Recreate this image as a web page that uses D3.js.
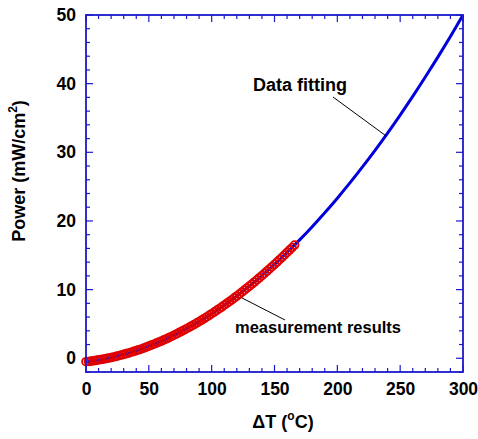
<!DOCTYPE html>
<html><head><meta charset="utf-8">
<script src="https://cdn.jsdelivr.net/npm/d3@7"></script>
<style>body{margin:0;background:#fff}svg{display:block}text{font-family:"Liberation Sans",Arial,sans-serif;font-weight:bold;fill:#000}</style>
</head><body><div id="chart"></div>
<script>
// Measurement results (ΔT in °C, Power in mW/cm²)
const measT = d3.range(0, 167, 2);
const measP = [-0.50,-0.46,-0.41,-0.36,-0.30,-0.24,-0.18,-0.11,-0.04,0.03,0.11,0.19,0.28,0.37,0.47,0.56,0.67,0.77,0.88,1.00,1.12,1.24,1.36,1.49,1.63,1.77,1.91,2.05,2.20,2.36,2.51,2.68,2.84,3.01,3.18,3.36,3.54,3.73,3.92,4.11,4.31,4.51,4.71,4.92,5.13,5.35,5.57,5.79,6.02,6.25,6.49,6.73,6.97,7.22,7.47,7.73,7.99,8.25,8.52,8.79,9.07,9.35,9.63,9.92,10.21,10.51,10.81,11.11,11.42,11.73,12.04,12.36,12.68,13.01,13.34,13.68,14.01,14.36,14.70,15.05,15.41,15.77,16.13,16.49];
// Fitted curve
const fitT = [0,10,20,30,40,50,60,70,80,90,100,110,120,130,140,150,160,170,180,190,200,210,220,230,240,250,260,270,280,290,300];
const fitP = [-0.50,-0.24,0.11,0.56,1.12,1.77,2.51,3.36,4.31,5.35,6.49,7.73,9.07,10.51,12.04,13.68,15.41,17.24,19.17,21.19,23.32,25.54,27.87,30.29,32.81,35.43,38.14,40.96,43.87,46.88,50.00];
const xTicks = [0,50,100,150,200,250,300];
const yTicks = [0,10,20,30,40,50];
const xLabel = "ΔT (";
const yLabel = "Power (mW/cm";
const annotFit = {text:"Data fitting", T:238.7, P:32.4};
const annotMeas = {text:"measurement results", T:124, P:8.8};

const W = 478, H = 439;
const m = {left:86, right:15, top:15, bottom:67};
const svg = d3.select("#chart").append("svg").attr("width",W).attr("height",H);
const x = d3.scaleLinear().domain([0,300]).range([m.left, W-m.right]);
const y = d3.scaleLinear().domain([-2,50]).range([H-m.bottom, m.top]);
const axisColor = "#1a1acc";

const xMinor = d3.range(0,301,10), yMinor = d3.range(-2,51,2);
const g = svg.append("g");
function drawTicks(vals, scale, isX, majorSet){
  vals.forEach(v=>{
    const major = majorSet.includes(v);
    const len = major ? 7 : 4;
    if(isX){
      const px = scale(v);
      g.append("line").attr("x1",px).attr("x2",px).attr("y1",y.range()[0]).attr("y2",y.range()[0]-len).attr("stroke",axisColor).attr("stroke-width",1.2);
      g.append("line").attr("x1",px).attr("x2",px).attr("y1",y.range()[1]).attr("y2",y.range()[1]+len).attr("stroke",axisColor).attr("stroke-width",1.2);
    } else {
      const py = scale(v);
      g.append("line").attr("y1",py).attr("y2",py).attr("x1",x.range()[0]).attr("x2",x.range()[0]+len).attr("stroke",axisColor).attr("stroke-width",1.2);
      g.append("line").attr("y1",py).attr("y2",py).attr("x1",x.range()[1]).attr("x2",x.range()[1]-len).attr("stroke",axisColor).attr("stroke-width",1.2);
    }
  });
}
drawTicks(xMinor, x, true, xTicks);
drawTicks(yMinor, y, false, yTicks);

const xAxis = d3.axisBottom(x).tickValues(xTicks).tickSize(0).tickPadding(11).tickFormat(d3.format("d"));
const yAxis = d3.axisLeft(y).tickValues(yTicks).tickSize(0).tickPadding(10).tickFormat(d3.format("d"));
const gx = svg.append("g").attr("transform",`translate(0,${y.range()[0]})`).call(xAxis);
const gy = svg.append("g").attr("transform",`translate(${x.range()[0]},0)`).call(yAxis);
[gx,gy].forEach(a=>{a.select(".domain").remove(); a.selectAll("text").style("font-size","17.5px").style("font-family","'Liberation Sans',Arial,sans-serif").style("font-weight","bold").attr("fill","#000");});

const line = d3.line().x(d=>x(d[0])).y(d=>y(d[1])).curve(d3.curveMonotoneX);
svg.append("path").datum(fitT.map((t,i)=>[t,fitP[i]])).attr("d",line).attr("fill","none").attr("stroke","#0000dd").attr("stroke-width",3);

svg.append("g").selectAll("circle").data(measT.map((t,i)=>[t,measP[i]])).join("circle")
  .attr("cx",d=>x(d[0])).attr("cy",d=>y(d[1])).attr("r",3.9)
  .attr("fill","none").attr("stroke","#e00000").attr("stroke-width",1.8);

svg.append("rect").attr("x",x.range()[0]).attr("y",y.range()[1]).attr("width",x.range()[1]-x.range()[0]).attr("height",y.range()[0]-y.range()[1])
  .attr("fill","none").attr("stroke",axisColor).attr("stroke-width",1.8);

svg.append("line").attr("x1",333).attr("y1",97).attr("x2",x(annotFit.T)).attr("y2",y(annotFit.P)).attr("stroke","#000").attr("stroke-width",1);
svg.append("text").attr("x",253).attr("y",91).style("font-size","18px").text(annotFit.text);
svg.append("line").attr("x1",285).attr("y1",320).attr("x2",x(annotMeas.T)).attr("y2",y(annotMeas.P)).attr("stroke","#000").attr("stroke-width",1);
svg.append("text").attr("x",235).attr("y",333).style("font-size","16.5px").text(annotMeas.text);

const xt = svg.append("text").attr("x",283).attr("y",428).attr("text-anchor","middle").style("font-size","18px");
xt.append("tspan").text(xLabel);
xt.append("tspan").attr("dy",-8).style("font-size","12px").text("o");
xt.append("tspan").attr("dy",8).text("C)");
const yt = svg.append("text").attr("transform","translate(25,171) rotate(-90)").attr("text-anchor","middle").style("font-size","18px");
yt.append("tspan").text(yLabel);
yt.append("tspan").attr("dy",-8).style("font-size","12px").text("2");
yt.append("tspan").attr("dy",8).text(")");
</script></body></html>
